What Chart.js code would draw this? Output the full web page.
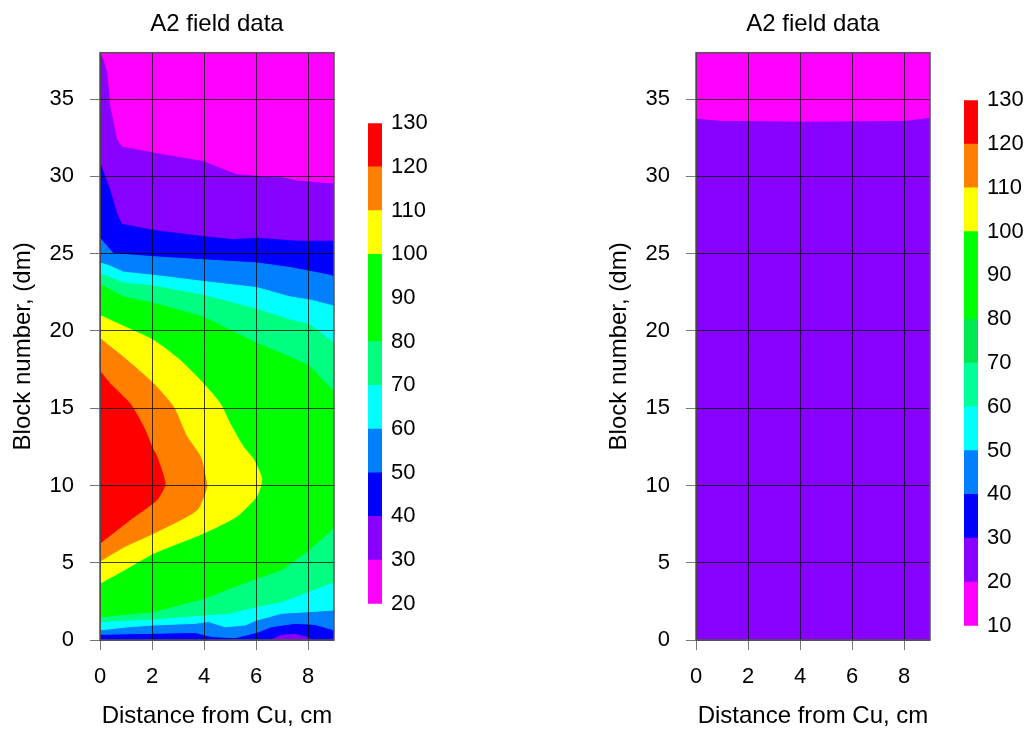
<!DOCTYPE html>
<html>
<head>
<meta charset="utf-8">
<script src="https://cdn.jsdelivr.net/npm/chart.js@4.4.0/dist/chart.umd.min.js"></script>
<style>
  html, body { margin: 0; padding: 0; background: #fff; }
  #page { position: relative; width: 1031px; height: 731px; overflow: hidden; }
  .box { position: absolute; }
</style>
</head>
<body>
<div id="page">
  <div class="box" style="left:0;top:0;width:340px;height:731px"><canvas id="left-map"></canvas></div>
  <div class="box" style="left:368px;top:101px;width:80px;height:525px"><canvas id="left-bar"></canvas></div>
  <div class="box" style="left:596px;top:0;width:340px;height:731px"><canvas id="right-map"></canvas></div>
  <div class="box" style="left:964px;top:78px;width:67px;height:570px"><canvas id="right-bar"></canvas></div>
</div>
<script>
// ---- colour scales (level boundaries + band colours) ----
const leftLevels  = [20, 30, 40, 50, 60, 70, 80, 90, 100, 110, 120, 130];
const leftColors  = ['#FF00FF', '#8800FF', '#0000FF', '#0080FF', '#00FFFF', '#00FF80',
                     '#00FF00', '#00FF00', '#FFFF00', '#FF8000', '#FF0000'];
const rightLevels = [10, 20, 30, 40, 50, 60, 70, 80, 90, 100, 110, 120, 130];
const rightColors = ['#FF00FF', '#8800FF', '#0000FF', '#0080FF', '#00FFFF', '#00FF99',
                     '#00E850', '#00FF00', '#00FF00', '#FFFF00', '#FF8000', '#FF0000'];

// ---- contour outlines: region where value >= level, as [x cm, y dm] ----
const left20 = [[0,0],[9,0],[9,38],[0,38]];
const left30 = [[0,0],[9,0],[9,29.5],[7.56,29.7],[7.05,29.9],[6.03,30.0],[5.26,30.1],[4.49,30.6],
  [3.97,30.96],[2.05,31.5],[0.83,31.9],[0.64,32.4],[0.38,34.5],[0.26,36.7],[0.1,37.6],[0,38]];
const left40 = [[0,0],[6.47,0],[6.99,0.37],[7.5,0.43],[8.01,0.22],[8.14,0],[9,0],[9,25.8],
  [7.56,25.8],[6.03,26.0],[5.13,25.9],[3.97,26.1],[2.05,26.5],[0.83,26.9],[0.64,27.6],[0.38,29.1],[0,30.85]];
const left50 = [[0,0.37],[2.05,0.43],[3.65,0.49],[4.3,0.22],[5.19,0.15],[6.03,0.49],[6.6,0.86],
  [7.5,1.08],[8.27,1.01],[9,0.65],[9,23.5],[8.85,23.6],[7.31,24.1],[6.03,24.4],[3.97,24.6],
  [2.05,24.8],[0.51,25.0],[0,26.0]];
const left60 = [[0,0.65],[1.09,0.86],[2.05,0.97],[3.65,1.08],[4.17,1.19],[4.81,0.86],[5.58,0.97],
  [6.03,1.29],[6.99,1.73],[8.01,1.83],[9,1.94],[9,21.6],[8.08,22.0],[7.31,22.2],[6.03,22.8],
  [3.97,23.2],[2.05,23.6],[0.9,23.8],[0.38,24.2],[0,24.4]];
const left70 = [[0,1.19],[2.05,1.36],[4.01,1.62],[4.94,1.73],[6.03,2.16],[6.99,2.48],[8.01,3.13],
  [9,3.77],[9,19.2],[8.08,20.4],[7.31,20.7],[6.03,21.4],[3.97,22.3],[2.05,22.9],[0.9,23.1],[0,23.7]];
const left80 = [[0,1.51],[2.05,1.83],[4.01,2.7],[6.03,4.0],[6.99,4.53],[8.01,5.8],[8.5,6.5],[9,7.3],
  [9,16.1],[8.85,16.3],[8.08,17.7],[7.31,18.3],[6.03,19.2],[3.97,20.9],[2.05,21.8],[0.9,22.2],[0,23.0]];
const left100 = [[0,21.0],[0.9,20.3],[2.05,19.4],[3.08,18.1],[3.97,16.6],[4.62,15.3],[5.0,14.0],
  [5.51,12.5],[5.9,11.7],[6.22,10.4],[6.03,9.3],[5.26,8.0],[3.97,6.9],[2.05,5.6],[0.9,4.5],[0,3.67]];
const left110 = [[0,19.5],[0.9,18.3],[2.05,16.6],[2.82,15.1],[3.33,13.2],[3.85,11.9],[3.97,11.2],
  [4.1,9.9],[3.72,8.4],[2.05,6.9],[0.9,6.0],[0,5.1]];
const left120 = [[0,17.4],[0.38,16.6],[1.15,15.3],[1.67,13.8],[2.05,12.3],[2.18,11.9],[2.5,10.1],
  [2.18,9.06],[1.15,7.77],[0,6.26]];

const right10 = [[0,0],[9,0],[9,38],[0,38]];
const right20 = [[0,0],[9,0],[9,33.75],[8,33.55],[4.5,33.5],[1,33.55],[0,33.7]];

const leftRegions  = [[20,left20],[30,left30],[40,left40],[50,left50],[60,left60],[70,left70],
                      [80,left80],[100,left100],[110,left110],[120,left120]];
const rightRegions = [[10,right10],[20,right20]];

Chart.defaults.font.family = '"Liberation Sans", Arial, sans-serif';
Chart.defaults.color = '#000';

// box round the plot
const frame = {
  id: 'frame',
  afterDraw(chart) {
    const {ctx, chartArea: a} = chart;
    ctx.save();
    ctx.strokeStyle = '#555';
    ctx.lineWidth = 1.5;
    ctx.strokeRect(a.left, a.top, a.right - a.left, a.bottom - a.top);
    ctx.restore();
  }
};

function regionSets(regions, levels, colors) {
  return regions.map(([lev, outline]) => {
    const col = colors[levels.indexOf(lev)];
    return {
      data: outline.map(([x, y]) => ({x, y})),
      showLine: true, fill: 'shape',
      backgroundColor: col, borderColor: col, borderWidth: 1,
      tension: lev >= 100 ? 0.2 : 0,   // the closed tongues are smooth
      pointRadius: 0, order: 1000 - lev
    };
  });
}

const gridStyle = { z: 1, color: 'rgba(0,0,0,0.75)', tickColor: '#777', tickLength: 10 };

function mapChart(id, regions, levels, colors) {
  return new Chart(document.getElementById(id), {
    type: 'scatter',
    data: { datasets: regionSets(regions, levels, colors) },
    options: {
      responsive: true, maintainAspectRatio: false, animation: false, events: [],
      layout: { padding: { right: 6 } },
      plugins: { legend: { display: false }, tooltip: { enabled: false } },
      scales: {
        x: {
          type: 'linear', min: 0, max: 9,
          ticks: { stepSize: 2, includeBounds: false, padding: 14, font: { size: 22 } },
          grid: gridStyle,
          border: { display: false },
          title: { display: true, text: 'Distance from Cu, cm', font: { size: 24 }, padding: { top: 0, bottom: 0 } },
          afterFit: s => { s.height = 91; }
        },
        // top axis only carries the panel title, centred over the plot
        top: {
          type: 'linear', position: 'top', min: 0, max: 9,
          ticks: { display: false }, grid: { display: false, drawTicks: false }, border: { display: false },
          title: { display: true, text: 'A2 field data', font: { size: 24 }, padding: { top: 10, bottom: 0 } },
          afterFit: s => { s.height = 52.7; }
        },
        y: {
          type: 'linear', min: 0, max: 38,
          ticks: { stepSize: 5, includeBounds: false, padding: 16, font: { size: 22 } },
          grid: gridStyle,
          border: { display: false },
          title: { display: true, text: 'Block number, (dm)', font: { size: 24 }, padding: { top: 9, bottom: 0 } },
          afterFit: s => { s.width = 100; }
        }
      }
    },
    plugins: [frame]
  });
}

function colorBar(id, levels, colors, width) {
  return new Chart(document.getElementById(id), {
    type: 'bar',
    data: {
      labels: [''],
      datasets: colors.map((c, i) => ({
        data: [[levels[i], levels[i + 1]]], backgroundColor: c, borderWidth: 0,
        grouped: false, barPercentage: 1, categoryPercentage: 1
      }))
    },
    options: {
      responsive: true, maintainAspectRatio: false, animation: false, events: [],
      layout: { padding: { top: 16, bottom: 16 } },
      plugins: { legend: { display: false }, tooltip: { enabled: false } },
      scales: {
        x: { display: false },
        y: {
          position: 'right', min: levels[0], max: levels[levels.length - 1],
          ticks: { stepSize: 10, padding: 9, font: { size: 22 } },
          grid: { display: false, drawTicks: false }, border: { display: false },
          afterFit: s => { s.width = width - 14; }
        }
      }
    }
  });
}

mapChart('left-map', leftRegions, leftLevels, leftColors);
mapChart('right-map', rightRegions, rightLevels, rightColors);
colorBar('left-bar', leftLevels, leftColors, 80);
colorBar('right-bar', rightLevels, rightColors, 67);
</script>
</body>
</html>
